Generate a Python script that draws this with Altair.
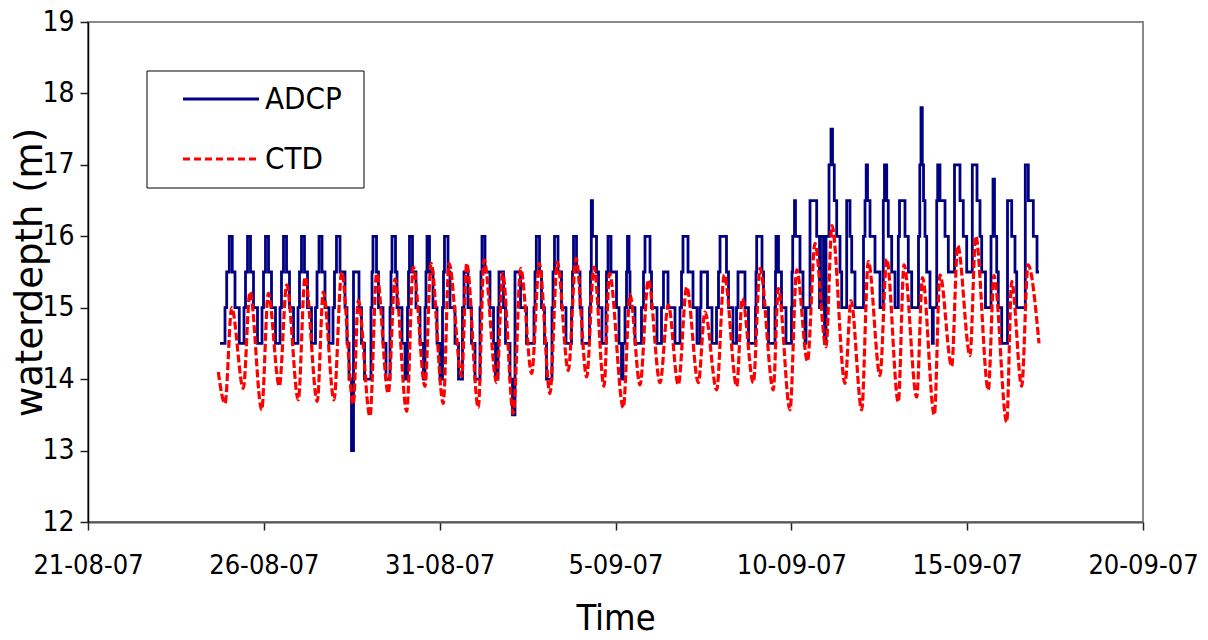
import altair as alt
import pandas as pd

# Days after 2007-08-21 00:00 at which the ADCP depth changes level,
# with the level (m) that holds from then on; one tidal cycle per line.
adcp_day = [
    3.754, 3.896, 3.944, 4.018, 4.103, 4.180, 4.302,
    4.436, 4.479, 4.536, 4.621, 4.706, 4.820,
    4.948, 4.991, 5.047, 5.133, 5.218, 5.332,
    5.460, 5.502, 5.559, 5.645, 5.730, 5.844,
    5.972, 6.014, 6.071, 6.156, 6.242, 6.355,
    6.469, 6.512, 6.569, 6.654, 6.739, 6.853,
    6.967, 7.009, 7.066, 7.166, 7.308, 7.365, 7.422, 7.493, 7.550, 7.706, 7.777, 7.863,
    8.047, 8.076, 8.104, 8.204, 8.261, 8.389, 8.474,
    8.588, 8.616, 8.645, 8.744, 8.787, 8.929, 9.014,
    9.085, 9.114, 9.142, 9.227, 9.327, 9.441, 9.540,
    9.583, 9.611, 9.640, 9.711, 9.810, 9.924, 10.009,
    10.081, 10.109, 10.137, 10.237, 10.294, 10.436, 10.536,
    10.649, 10.692, 10.806, 10.905, 11.005,
    11.147, 11.175, 11.204, 11.289, 11.431, 11.531, 11.588,
    11.659, 11.687, 11.815, 11.872, 12.000, 12.071, 12.142, 12.299, 12.469,
    12.682, 12.711, 12.748, 12.839, 12.896, 12.981, 13.038,
    13.194, 13.223, 13.265, 13.365, 13.464, 13.592,
    13.749, 13.777, 13.806, 13.891, 13.991, 14.047,
    14.261, 14.289, 14.312, 14.346, 14.460, 14.517, 14.616,
    14.730, 14.744, 14.787, 14.872, 15.029, 15.100, 15.171,
    15.213, 15.270, 15.313, 15.341, 15.384, 15.412, 15.555,
    15.739, 15.796, 15.839, 15.981, 16.024, 16.180,
    16.308, 16.364, 16.493, 16.692,
    16.834, 16.877, 16.919, 17.062, 17.204, 17.318,
    17.403, 17.431, 17.616, 17.744,
    17.872, 17.929, 17.972, 18.156, 18.213, 18.341,
    18.441, 18.483, 18.682, 18.782,
    18.981, 18.995, 19.015, 19.166, 19.209, 19.351,
    19.536, 19.550, 19.564, 19.635, 19.720, 19.848,
    20.004, 20.019, 20.039, 20.090, 20.118, 20.246, 20.332, 20.389, 20.417,
    20.531, 20.721, 20.801, 20.829, 20.915, 20.943, 20.986,
    21.071, 21.128, 21.171, 21.222, 21.290, 21.384, 21.432,
    21.574, 21.668, 21.717, 21.810,
    22.052, 22.095, 22.129, 22.166, 22.237, 22.379, 22.521,
    22.615, 22.649, 22.712, 22.757, 22.854, 22.948,
    23.042, 23.076, 23.232, 23.326, 23.423,
    23.616, 23.653, 23.687, 23.724, 23.759, 23.801, 23.849, 23.943, 24.009, 24.037,
    24.134, 24.162, 24.227, 24.370, 24.464,
    24.640, 24.796, 24.890, 24.987,
    25.146, 25.280, 25.365, 25.413, 25.521,
    25.678, 25.735, 25.777, 25.840, 25.885, 25.982,
    26.147, 26.266, 26.360, 26.408,
    26.653, 26.739, 26.881, 26.986, 27.043,
]
adcp_depth = [
    14.5, 15, 15.5, 16, 15.5, 15, 14.5,
    15, 15.5, 16, 15.5, 15, 14.5,
    15, 15.5, 16, 15.5, 15, 14.5,
    15, 15.5, 16, 15.5, 15, 14.5,
    15, 15.5, 16, 15.5, 15, 14.5,
    15, 15.5, 16, 15.5, 15, 14.5,
    15, 15.5, 16, 15.5, 15, 14.5, 14, 13, 15.5, 15, 14.5, 14,
    15, 15.5, 16, 15.5, 15, 14.5, 14,
    15, 15.5, 16, 15.5, 15, 14.5, 14,
    15, 15.5, 16, 15.5, 15, 14.5, 14,
    15, 15.5, 16, 15.5, 15, 14.5, 14,
    15, 15.5, 16, 15.5, 15, 14.5, 14,
    15, 15.5, 15, 14.5, 14,
    15, 15.5, 16, 15.5, 15, 14.5, 14,
    15, 15.5, 15, 14.5, 14, 13.5, 15.5, 15, 14.5,
    15, 15.5, 16, 15.5, 15, 14.5, 14,
    15, 15.5, 16, 15.5, 15, 14.5,
    15, 15.5, 16, 15.5, 15, 14.5,
    15, 15.5, 16.5, 16, 15.5, 15, 14.5,
    15, 15.5, 16, 15.5, 15, 14.5, 14,
    14.5, 15, 15.5, 16, 15.5, 15, 14.5,
    15, 15.5, 16, 15.5, 15, 14.5,
    15, 15.5, 15, 14.5,
    15, 15.5, 16, 15.5, 15, 14.5,
    15, 15.5, 15, 14.5,
    15, 15.5, 16, 15.5, 15, 14.5,
    15, 15.5, 15, 14.5,
    15, 15.5, 16, 15.5, 15, 14.5,
    15, 15.5, 16, 15.5, 15, 14.5,
    15, 15.5, 16, 16.5, 16, 15.5, 15, 14.5, 15,
    16.5, 16, 15, 16, 15, 14.5, 16,
    17, 17.5, 17, 16.5, 16, 15.5, 15,
    16.5, 16, 15.5, 15,
    16, 16.5, 17, 16.5, 16, 15.5, 15,
    16.5, 17, 16.5, 16, 15.5, 15,
    16, 16.5, 16, 15.5, 15,
    16, 17, 17.8, 17, 16.5, 16, 15.5, 15, 14.5, 15,
    16.5, 17, 16.5, 16, 15.5,
    17, 16.5, 16, 15.5,
    17, 16.5, 16, 15.5, 15,
    16, 16.8, 16, 15.5, 15, 14.5,
    16.5, 16, 15.5, 15,
    17, 16.5, 16, 15.5, 15.5,
]

# CTD depth at successive low and high waters (days after 2007-08-21, m)
ctd_day = [
    3.705, 3.896, 4.086, 4.416, 4.607, 4.939, 5.127, 5.440, 5.650, 5.980,
    6.171, 6.520, 6.691, 6.995, 7.214, 7.544, 7.686, 8.019, 8.209, 8.539,
    8.730, 9.063, 9.250, 9.583, 9.754, 10.103, 10.265, 10.627, 10.769, 11.099,
    11.261, 11.622, 11.792, 12.094, 12.304, 12.617, 12.833, 13.137, 13.345, 13.658,
    13.877, 14.181, 14.389, 14.673, 14.829, 15.222, 15.412, 15.697, 15.933, 16.266,
    16.502, 16.786, 17.025, 17.355, 17.545, 17.878, 18.094, 18.447, 18.606, 18.919,
    19.109, 19.487, 19.630, 19.962, 20.153, 20.460, 20.673, 20.986, 21.156, 21.526,
    21.697, 22.001, 22.189, 22.522, 22.712, 23.042, 23.204, 23.565, 23.730, 24.066,
    24.228, 24.560, 24.731, 25.081, 25.243, 25.601, 25.763, 26.124, 26.266, 26.551,
    26.730, 27.043,
]
ctd_depth = [
    14.10, 13.66, 15.00, 13.87, 15.22, 13.57, 15.20, 13.90, 15.32, 13.71,
    15.43, 13.69, 15.22, 13.71, 15.50, 13.65, 15.10, 13.48, 15.48, 13.80,
    15.40, 13.55, 15.57, 13.90, 15.62, 13.66, 15.62, 14.04, 15.62, 13.60,
    15.67, 13.95, 15.48, 13.52, 15.55, 14.08, 15.62, 13.80, 15.64, 14.12,
    15.69, 14.03, 15.57, 13.90, 15.48, 13.60, 15.18, 13.92, 15.39, 13.95,
    15.04, 13.92, 15.29, 13.95, 14.94, 13.85, 15.46, 13.90, 15.13, 13.95,
    15.55, 13.85, 15.27, 13.57, 15.53, 14.25, 15.90, 14.45, 16.15, 13.94,
    15.10, 13.57, 15.65, 14.05, 15.68, 13.68, 15.60, 13.75, 15.42, 13.50,
    15.46, 14.18, 15.87, 14.33, 16.00, 13.85, 15.45, 13.40, 15.37, 13.90,
    15.60, 14.50,
]

depth_ticks = [12, 13, 14, 15, 16, 17, 18, 19]
date_ticks = [(2007, 8, 21), (2007, 8, 26), (2007, 8, 31), (2007, 9, 5),
              (2007, 9, 10), (2007, 9, 15), (2007, 9, 20)]

assert len(adcp_day) == len(adcp_depth)
assert len(ctd_day) == len(ctd_depth)

start = pd.Timestamp("2007-08-21")
adcp = pd.DataFrame({"time": start + pd.to_timedelta(adcp_day, unit="D"),
                     "depth": adcp_depth})
ctd = pd.DataFrame({"time": start + pd.to_timedelta(ctd_day, unit="D"),
                    "depth": ctd_depth})

NARROW = "DejaVu Sans Condensed, DejaVu Sans, sans-serif"
WIDE = "DejaVu Sans, sans-serif"

tick_dates = [alt.DateTime(year=y, month=m, date=d) for y, m, d in date_ticks]

x_enc = alt.X(
    "time:T",
    scale=alt.Scale(domain=[tick_dates[0], tick_dates[-1]]),
    axis=alt.Axis(
        values=tick_dates, format="%-d-%m-%y", title="Time",
        labelFontSize=27, labelFont=NARROW, labelColor="black",
        labelPadding=22, labelFlush=False, labelOverlap=False,
        tickSize=8, tickColor="#222", tickWidth=1.5,
        domainColor="#555", domainWidth=2, grid=False,
        titleFont=NARROW, titleFontSize=36, titleFontWeight="normal",
        titleColor="black", titlePadding=23,
    ),
)
y_enc = alt.Y(
    "depth:Q",
    scale=alt.Scale(domain=[12, 19], nice=False, zero=False),
    axis=alt.Axis(
        values=depth_ticks, title="waterdepth (m)",
        labelFontSize=28, labelFont=NARROW, labelColor="black",
        labelPadding=6, tickSize=8, tickColor="#222", tickWidth=1.5,
        domainColor="black", domainWidth=1.5, grid=False,
        titleFont=WIDE, titleFontSize=37,
        titleFontWeight="normal", titleColor="black", titlePadding=-8,
    ),
)

adcp_line = alt.Chart(adcp).mark_line(
    color="#000080", strokeWidth=2.8, interpolate="step-after"
).encode(x=x_enc, y=y_enc)

ctd_line = alt.Chart(ctd).mark_line(
    color="#FF0000", strokeWidth=3.2, strokeDash=[8, 3], interpolate="monotone"
).encode(x=x_enc, y=y_enc)

# Legend box drawn inside the plot area
one = pd.DataFrame({"k": [0]})
legend_box = alt.Chart(one).mark_rect(
    fill="white", stroke="black", strokeWidth=1
).encode(x=alt.value(59), x2=alt.value(276), y=alt.value(49), y2=alt.value(166))
legend_adcp = alt.Chart(one).mark_rule(color="#000080", strokeWidth=3).encode(
    x=alt.value(95), x2=alt.value(171), y=alt.value(77))
legend_ctd = alt.Chart(one).mark_rule(
    color="#FF0000", strokeWidth=3, strokeDash=[7, 4]
).encode(x=alt.value(95), x2=alt.value(171), y=alt.value(137))
legend_txt1 = alt.Chart(one).mark_text(
    align="left", baseline="middle", fontSize=31, font=NARROW, color="black"
).encode(x=alt.value(177), y=alt.value(78), text=alt.value("ADCP"))
legend_txt2 = alt.Chart(one).mark_text(
    align="left", baseline="middle", fontSize=31, font=NARROW, color="black"
).encode(x=alt.value(177), y=alt.value(138), text=alt.value("CTD"))

chart = alt.layer(
    adcp_line, ctd_line, legend_box, legend_adcp, legend_ctd, legend_txt1, legend_txt2
).properties(
    width=1055, height=500,
    autosize=alt.AutoSizeParams(type="none"),
    padding={"left": 88, "top": 22, "right": 65, "bottom": 118},
    background="white",
).configure_view(
    stroke="#8a8a8a", strokeWidth=2
)

chart.save("out.html", embed_options={"renderer": "svg", "actions": False})
